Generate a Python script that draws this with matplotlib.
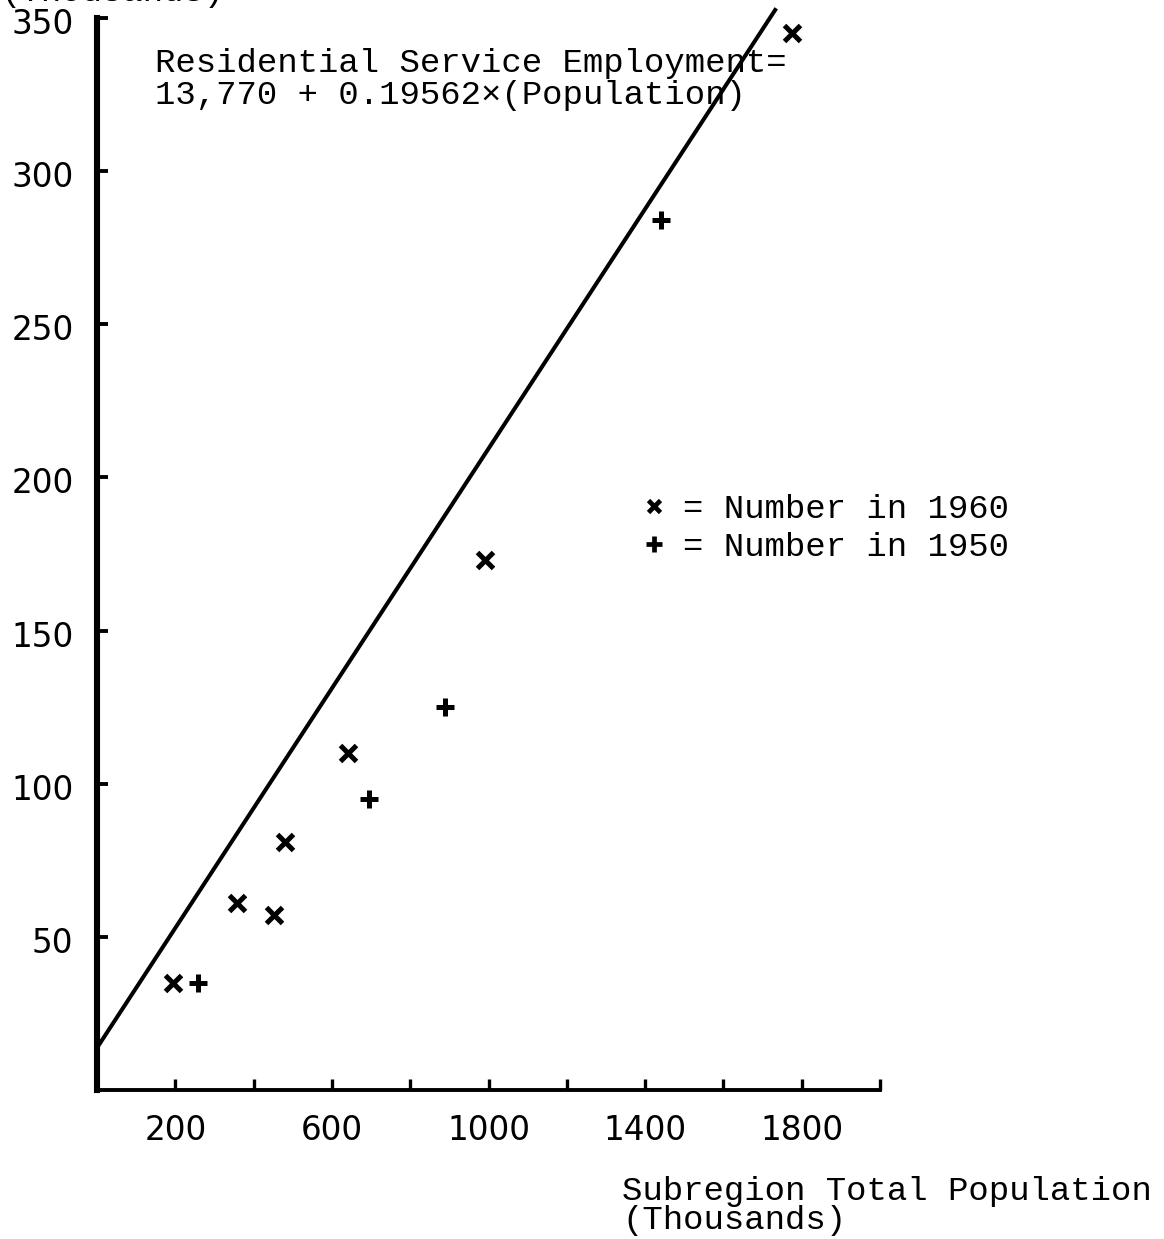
import numpy as np
import matplotlib
matplotlib.use("Agg")
import matplotlib.pyplot as plt
import matplotlib.transforms as mtransforms
from matplotlib.lines import Line2D

# Subregion observations (population and residential service employment, thousands)
pop_1960 = [195, 358, 453, 479, 640, 991, 1774]
emp_1960 = [35, 61, 57, 81, 110, 173, 345]
pop_1950 = [259, 696, 888, 1441]
emp_1950 = [35, 95, 125, 284]

# Fitted relation: employment = 13,770 + 0.19562 * population
intercept = 13.770
slope = 0.19562
fit_pop_range = (0, 1735)

y_ticks = [50, 100, 150, 200, 250, 300, 350]
x_major = [200, 600, 1000, 1400, 1800]
x_minor = [400, 800, 1200, 1600, 2000]

TYPE = "Liberation Mono"
TSIZE = 24.5

fig = plt.figure(figsize=(11.64, 12.39), dpi=100)
ax = fig.add_axes([97 / 1164, 1 - 1090 / 1239, (880 - 97) / 1164, (1090 - 18) / 1239])

# regression line
xs = np.linspace(*fit_pop_range, 50)
ax.plot(xs, intercept + slope * xs, color="black", lw=2.9, clip_on=False,
        solid_capstyle="butt", zorder=2)

# observations
ax.plot(pop_1960, emp_1960, linestyle="none", marker="x", ms=11, mew=3.6,
        color="black", clip_on=False, zorder=3)
ax.plot(pop_1950, emp_1950, linestyle="none", marker="+", ms=13, mew=3.6,
        color="black", clip_on=False, zorder=3)

ax.set_xlim(0, 2000)
ax.set_ylim(0, 350)

for s in ("top", "right"):
    ax.spines[s].set_visible(False)
ax.spines["left"].set_linewidth(4.4)
ax.spines["bottom"].set_linewidth(2.8)

ax.set_yticks(y_ticks)
ax.set_yticklabels([str(v) for v in y_ticks])
ax.set_xticks(x_major)
ax.set_xticklabels([str(v) for v in x_major])
ax.set_xticks(x_minor, minor=True)

ax.tick_params(axis="y", direction="in", length=8, width=2.8, pad=17,
               labelsize=23.5)
ax.tick_params(axis="x", which="both", direction="in", length=8, width=2.4,
               pad=17, labelsize=23.5)
for lab in ax.get_xticklabels() + ax.get_yticklabels():
    lab.set_fontfamily("DejaVu Sans")

# typed y labels sit slightly below their ticks
shift = mtransforms.ScaledTranslation(0, -3 / 100, fig.dpi_scale_trans)
for lab in ax.get_yticklabels():
    lab.set_transform(lab.get_transform() + shift)

# equation annotation
fig.text(155 / 1164, 1 - 72 / 1239, "Residential Service Employment=",
         family=TYPE, fontsize=TSIZE, va="baseline", ha="left")
fig.text(155 / 1164, 1 - 104 / 1239, "13,770 + 0.19562\u00d7(Population)",
         family=TYPE, fontsize=TSIZE, va="baseline", ha="left")

# legend
handles = [
    Line2D([], [], linestyle="none", marker="x", ms=9, mew=3.4, color="black"),
    Line2D([], [], linestyle="none", marker="+", ms=11, mew=3.4, color="black"),
]
fig.legend(handles, ["= Number in 1960", "= Number in 1950"],
           loc="upper left", bbox_to_anchor=(640 / 1164, 1 - 494 / 1239),
           frameon=False, handlelength=0.8, handletextpad=0.45,
           labelspacing=0.2, borderpad=0, borderaxespad=0,
           prop={"family": TYPE, "size": TSIZE})

# axis titles
fig.text(622 / 1164, 1 - 1200 / 1239, "Subregion Total Population",
         family=TYPE, fontsize=TSIZE, va="baseline", ha="left")
fig.text(622 / 1164, 1 - 1229 / 1239, "(Thousands)",
         family=TYPE, fontsize=TSIZE, va="baseline", ha="left")
fig.text(0 / 1164, 1 - 1 / 1239, "(Thousands)",
         family=TYPE, fontsize=TSIZE, va="baseline", ha="left")

fig.savefig("out.png", dpi=100, facecolor="white")
